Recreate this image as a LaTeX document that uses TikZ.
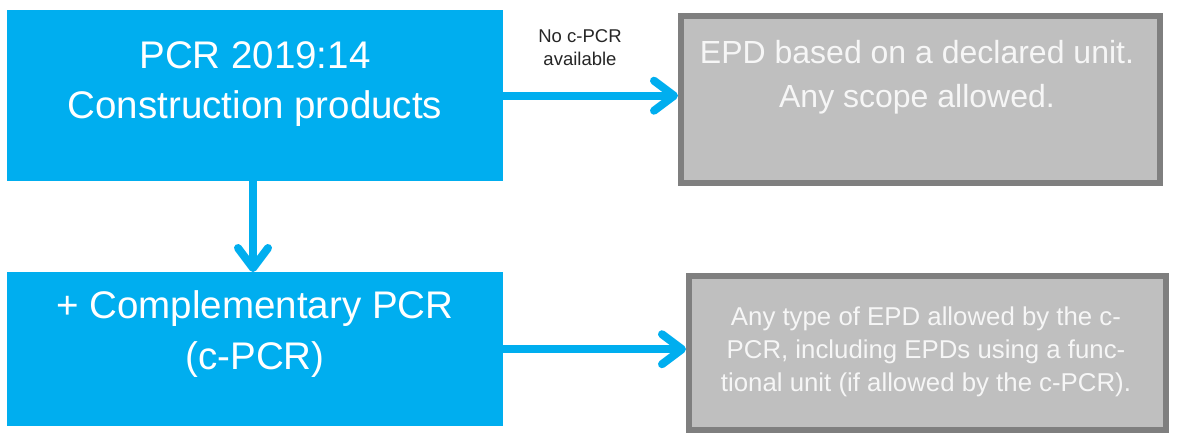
\documentclass[tikz,border=0pt]{standalone}
\usepackage{fontspec}
\setmainfont{Liberation Sans}
\usetikzlibrary{arrows.meta}
\definecolor{pblue}{RGB}{0,174,239}
\definecolor{gfill}{RGB}{191,191,191}
\definecolor{gborder}{RGB}{127,127,127}
\definecolor{gtext}{RGB}{246,246,246}
\begin{document}
\begin{tikzpicture}[x=1pt,y=-1pt,
  bluebox/.style={fill=pblue, draw=none, inner sep=0pt, anchor=north west},
  greybox/.style={fill=gfill, draw=gborder, line width=6pt, inner sep=0pt, anchor=north west},
  bigtxt/.style={anchor=base, text=white, inner sep=0pt, font=\fontsize{38.5}{46}\selectfont},
  midtxt/.style={anchor=base, text=gtext, inner sep=0pt, font=\fontsize{32}{40}\selectfont},
  smalltxt/.style={anchor=base, text=gtext, inner sep=0pt, font=\fontsize{25.8}{31}\selectfont},
  lbltxt/.style={anchor=base, text=black!85, inner sep=0pt, font=\fontsize{18.5}{22}\selectfont},
  arr/.style={draw=pblue, line width=8pt, -{Straight Barb[length=20pt, width=30pt, round]}}
]
\useasboundingbox (0,0) rectangle (1200,437);
\fill[white] (0,0) rectangle (1200,437);

\node[bluebox, minimum width=496pt, minimum height=171pt] (pcr) at (7,10) {};
\node[bluebox, minimum width=496pt, minimum height=154pt] (cpcr) at (7,272) {};
\node[greybox, minimum width=479pt, minimum height=167pt] (epd1) at (678,13) {};
\node[greybox, minimum width=477pt, minimum height=154pt] (epd2) at (686,273) {};

\node[bigtxt] (pcrA) at (255,68) {PCR 2019:14};
\node[bigtxt] (pcrB) at (255,118) {Construction products};
\node[bigtxt] (cpcrA) at (255,318) {+ Complementary PCR};
\node[bigtxt] (cpcrB) at (255,369) {(c-PCR)};

\node[midtxt] (epd1A) at (917,63) {EPD based on a declared unit.};
\node[midtxt] (epd1B) at (917,107) {Any scope allowed.};

\node[smalltxt] (epd2A) at (926,325) {Any type of EPD allowed by the c-};
\node[smalltxt] (epd2B) at (926,358) {PCR, including EPDs using a func-};
\node[smalltxt] (epd2C) at (926,391) {tional unit (if allowed by the c-PCR).};

\node[lbltxt] (lblA) at (580,42) {No c-PCR};
\node[lbltxt] (lblB) at (580,65) {available};

\draw[arr] (pcr.east) -- (pcr.east -| epd1.west);
\draw[arr] (cpcr.east) -- (cpcr.east -| epd2.west);
\draw[arr] (pcr.south -| 253,0) -- (cpcr.north -| 253,0);
\end{tikzpicture}
\end{document}
